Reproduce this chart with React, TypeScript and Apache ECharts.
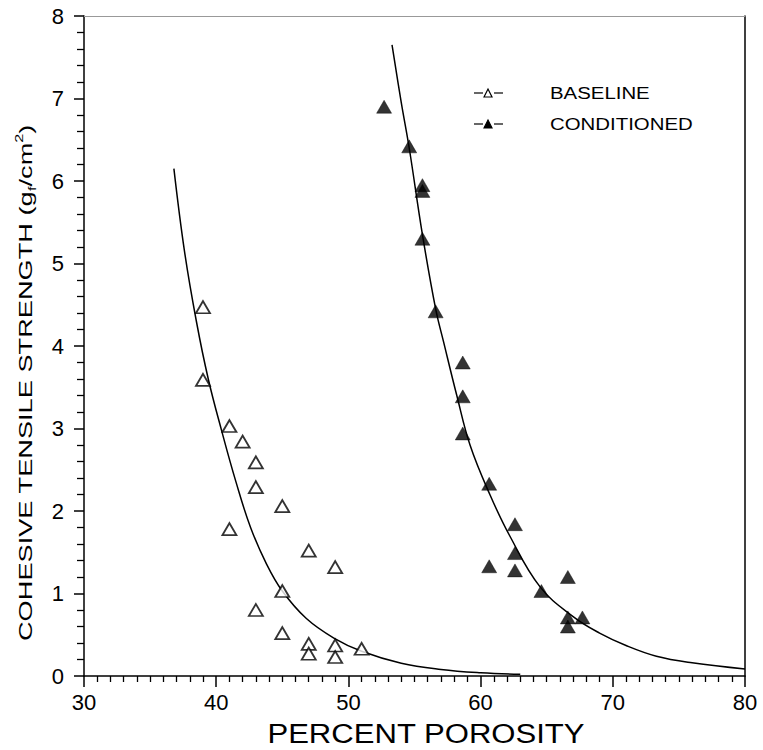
import React, { useEffect, useRef } from 'react';
import * as echarts from 'echarts';

// Measured specimens: [percent porosity, cohesive tensile strength (gf/cm²)]
const baselinePoints: [number, number][] = [
  [39, 4.47], [39, 3.59], [41, 3.03], [42, 2.84], [43, 2.59], [43, 2.29],
  [45, 2.06], [41, 1.78], [47, 1.52], [49, 1.32], [45, 1.03], [43, 0.8],
  [45, 0.52], [47, 0.39], [47, 0.27], [49, 0.37], [49, 0.23], [51, 0.33],
];

const conditionedPoints: [number, number][] = [
  [52.7, 6.9], [54.6, 6.42], [55.6, 5.95], [55.6, 5.88], [55.6, 5.3], [56.6, 4.42],
  [58.65, 3.8], [58.65, 3.39], [58.65, 2.94], [60.65, 2.33], [62.6, 1.84], [62.6, 1.49],
  [60.65, 1.33], [62.6, 1.28], [64.6, 1.03], [66.6, 1.2], [66.6, 0.71], [66.6, 0.6],
  [67.7, 0.71],
];

// Fitted decay curves through each data set
const baselineFit: [number, number][] = [
  [36.8, 6.15], [37.6, 5.15], [38.5, 4.3], [39.4, 3.6], [40.4, 2.98], [41.5, 2.35],
  [42.6, 1.8], [43.8, 1.36], [45, 1.03], [46.8, 0.7], [48.9, 0.46], [51, 0.3],
  [54, 0.155], [57, 0.08], [60, 0.04], [63, 0.02],
];

const conditionedFit: [number, number][] = [
  [53.3, 7.65], [54.0, 6.95], [54.6, 6.4], [55.6, 5.35], [56.6, 4.45], [57.2, 4.05],
  [58.2, 3.4], [59.2, 2.8], [60.7, 2.2], [62.2, 1.7], [64.5, 1.08], [67, 0.72],
  [69, 0.52], [71, 0.37], [73.3, 0.24], [76, 0.16], [80, 0.085],
];

const legendLabels = ['BASELINE', 'CONDITIONED'];
const xAxisTitle = 'PERCENT POROSITY';

const FONT = '"Liberation Sans", Arial, sans-serif';

export default function App() {
  const ref = useRef<HTMLDivElement>(null);

  useEffect(() => {
    document.body.style.margin = '0';
    if (!ref.current) return;
    const chart = echarts.init(ref.current, null, { renderer: 'svg' });

    const legendRow = (y: number, filled: boolean, label: string) => ({
      type: 'group',
      children: [
        { type: 'line', shape: { x1: 474, y1: y, x2: 483, y2: y }, style: { stroke: '#000', lineWidth: 1.2 } },
        {
          type: 'polygon',
          shape: { points: [[484, y + 4], [488, y - 4], [492, y + 4]] },
          style: { fill: filled ? '#000' : '#fff', stroke: '#000', lineWidth: 1.2 },
        },
        { type: 'line', shape: { x1: 494, y1: y, x2: 503, y2: y }, style: { stroke: '#000', lineWidth: 1.2 } },
        {
          type: 'text',
          x: 550,
          y,
          scaleX: 1.2,
          style: { text: label, fontSize: 17, fontFamily: FONT, fill: '#000', align: 'left', verticalAlign: 'middle' },
        },
      ],
    });

    const fitLine = (name: string, data: [number, number][]) => ({
      name,
      type: 'line',
      data,
      smooth: 0.4,
      showSymbol: false,
      symbol: 'none',
      lineStyle: { color: '#000', width: 1.5 },
      z: 2,
    });

    chart.setOption({
      animation: false,
      backgroundColor: '#fff',
      grid: { left: 84, right: 18, top: 16, bottom: 74, containLabel: false },
      xAxis: [
        {
          type: 'value',
          min: 30,
          max: 80,
          interval: 10,
          axisLine: { onZero: false, lineStyle: { color: '#000', width: 1.5 } },
          axisTick: { show: true, inside: false, length: 11, lineStyle: { color: '#000', width: 1.5 } },
          minorTick: { show: true, splitNumber: 10, length: 6, lineStyle: { color: '#000', width: 1.3 } },
          axisLabel: { color: '#000', fontSize: 22, fontFamily: FONT, margin: 15 },
          splitLine: { show: false },
        },
        {
          type: 'value',
          position: 'top',
          min: 30,
          max: 80,
          interval: 10,
          axisLine: { onZero: false, lineStyle: { color: '#999', width: 1 } },
          axisTick: { show: false },
          axisLabel: { show: false },
          splitLine: { show: false },
        },
      ],
      yAxis: [
        {
          type: 'value',
          min: 0,
          max: 8,
          interval: 1,
          axisLine: { onZero: false, lineStyle: { color: '#000', width: 1.5 } },
          axisTick: { show: true, inside: false, length: 10, lineStyle: { color: '#000', width: 1.5 } },
          minorTick: { show: true, splitNumber: 5, length: 7, lineStyle: { color: '#000', width: 1.3 } },
          axisLabel: { color: '#000', fontSize: 22, fontFamily: FONT, margin: 20 },
          splitLine: { show: false },
        },
        {
          type: 'value',
          position: 'right',
          min: 0,
          max: 8,
          interval: 1,
          axisLine: { onZero: false, lineStyle: { color: '#000', width: 1.5 } },
          axisTick: { show: false },
          axisLabel: { show: false },
          splitLine: { show: false },
        },
      ],
      series: [
        fitLine('Baseline fit', baselineFit),
        fitLine('Conditioned fit', conditionedFit),
        {
          name: legendLabels[0],
          type: 'scatter',
          data: baselinePoints,
          symbol: 'triangle',
          symbolSize: [14, 12],
          itemStyle: { color: '#fff', borderColor: '#000', borderWidth: 1.8 },
          z: 3,
        },
        {
          name: legendLabels[1],
          type: 'scatter',
          data: conditionedPoints,
          symbol: 'triangle',
          symbolSize: [15, 13],
          itemStyle: { color: '#000', borderColor: '#000', borderWidth: 0.5 },
          z: 3,
        },
      ],
      graphic: [
        {
          type: 'text',
          x: 426,
          y: 733,
          scaleX: 1.11,
          style: { text: xAxisTitle, fontSize: 28, fontFamily: FONT, fill: '#000', align: 'center', verticalAlign: 'middle' },
        },
        {
          type: 'text',
          x: 26,
          y: 383,
          rotation: Math.PI / 2,
          scaleX: 1.47,
          style: {
            text: '{m|COHESIVE TENSILE STRENGTH (g}{sub|f}{m|/cm}{sup|2}{m|)}',
            align: 'center',
            verticalAlign: 'middle',
            rich: {
              m: { fontSize: 18.5, fontFamily: FONT, fill: '#000', lineHeight: 24 },
              sub: { fontSize: 11, fontFamily: FONT, fill: '#000', verticalAlign: 'bottom', lineHeight: 24 },
              sup: { fontSize: 11, fontFamily: FONT, fill: '#000', verticalAlign: 'top', lineHeight: 24 },
            },
          },
        },
        legendRow(93, false, legendLabels[0]),
        legendRow(124, true, legendLabels[1]),
      ],
    });

    return () => chart.dispose();
  }, []);

  return <div ref={ref} style={{ width: 763, height: 750 }} />;
}
